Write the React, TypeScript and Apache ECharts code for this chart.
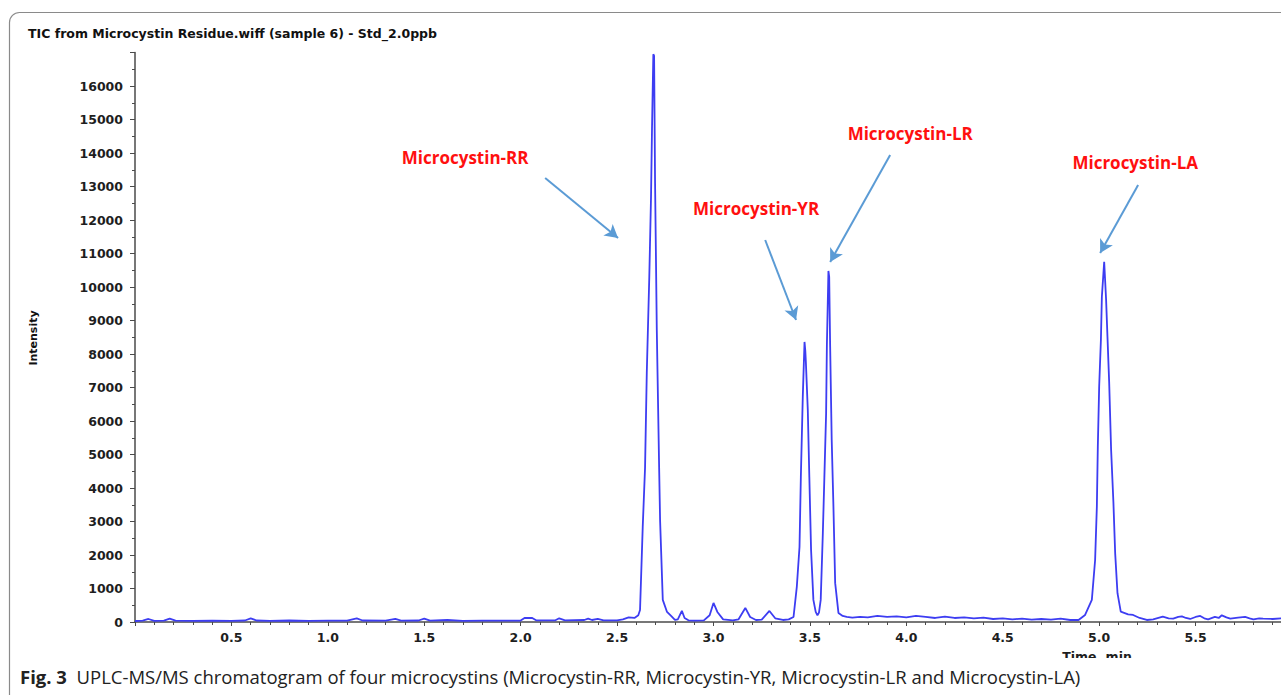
import React, { useEffect, useRef } from "react";
import * as echarts from "echarts";

// ---- Data (time in min, intensity in cps) ----
const baselineStart: [number, number][] = [
  [0.0, 30], [0.04, 40], [0.07, 90], [0.1, 35], [0.15, 40], [0.18, 100], [0.21, 40],
  [0.3, 35], [0.4, 40], [0.5, 35], [0.57, 45], [0.6, 110], [0.63, 45], [0.7, 35],
  [0.8, 45], [0.9, 35], [1.0, 40], [1.1, 40], [1.15, 110], [1.18, 45], [1.3, 40],
  [1.35, 90], [1.38, 40], [1.47, 45], [1.5, 100], [1.53, 40], [1.62, 60], [1.7, 35],
  [1.8, 40], [1.9, 40], [2.0, 45], [2.02, 120], [2.06, 120], [2.08, 50], [2.18, 50],
  [2.2, 110], [2.23, 50], [2.33, 60], [2.35, 100], [2.37, 60], [2.4, 90], [2.43, 50],
  [2.5, 50], [2.53, 80], [2.56, 140], [2.59, 120], [2.61, 200],
];

const peakRR: [number, number][] = [
  [2.619, 360], [2.633, 2840], [2.645, 4600], [2.654, 7430], [2.667, 10300],
  [2.676, 12690], [2.681, 14690], [2.688, 16950], [2.692, 16900], [2.697, 13100],
  [2.706, 8700], [2.718, 4630], [2.723, 3040], [2.737, 660], [2.759, 300],
  [2.78, 180], [2.8, 60], [2.815, 80], [2.836, 330], [2.85, 120], [2.87, 50],
  [2.9, 40], [2.95, 50], [2.98, 200], [3.0, 570], [3.02, 300], [3.05, 80],
  [3.1, 50], [3.13, 80], [3.165, 420], [3.19, 150], [3.22, 60], [3.25, 70],
  [3.29, 330], [3.32, 110], [3.36, 60], [3.39, 80],
];

const peaksYRLR: [number, number][] = [
  [3.415, 150], [3.432, 1050], [3.446, 2240], [3.453, 4330], [3.463, 6720],
  [3.472, 8360], [3.476, 8100], [3.479, 7760], [3.489, 6330], [3.497, 4330],
  [3.506, 2150], [3.518, 660], [3.53, 300], [3.539, 200], [3.547, 280],
  [3.556, 660], [3.567, 2650], [3.575, 4330], [3.584, 6230], [3.588, 8270],
  [3.596, 10480], [3.6, 10300], [3.605, 8210], [3.613, 5430], [3.622, 3430],
  [3.631, 1160], [3.648, 270], [3.67, 180], [3.691, 150],
];

const baselineMid: [number, number][] = [
  [3.72, 130], [3.76, 150], [3.8, 140], [3.85, 180], [3.9, 150], [3.95, 170],
  [4.0, 140], [4.05, 180], [4.1, 150], [4.15, 120], [4.2, 160], [4.25, 120],
  [4.3, 140], [4.35, 110], [4.4, 130], [4.45, 90], [4.5, 110], [4.55, 80],
  [4.6, 100], [4.65, 70], [4.7, 90], [4.75, 70], [4.8, 100], [4.85, 60],
  [4.893, 60], [4.927, 210], [4.962, 660],
];

const peakLA: [number, number][] = [
  [4.979, 1850], [4.988, 3440], [4.993, 5230], [5.0, 7020], [5.009, 8420],
  [5.014, 9710], [5.022, 10400], [5.026, 10755], [5.03, 10300], [5.036, 9610],
  [5.043, 8520], [5.052, 7130], [5.062, 5130], [5.074, 3550], [5.083, 2050],
  [5.095, 860], [5.112, 310], [5.15, 230], [5.176, 210], [5.21, 120], [5.247, 60],
];

const baselineEnd: [number, number][] = [
  [5.28, 80], [5.33, 160], [5.36, 110], [5.384, 100], [5.41, 150], [5.429, 170],
  [5.45, 120], [5.472, 90], [5.5, 150], [5.524, 180], [5.545, 110], [5.565, 80],
  [5.6, 150], [5.62, 120], [5.636, 200], [5.66, 140], [5.68, 100], [5.72, 130],
  [5.757, 150], [5.78, 110], [5.8, 80], [5.83, 110], [5.85, 100], [5.9, 90],
  [5.944, 110], [6.0, 100],
];

// Annotation labels (text, label anchor [t, I], arrow start [t, I], arrow tip [t, I])
const annotationNames = ["Microcystin-RR", "Microcystin-YR", "Microcystin-LR", "Microcystin-LA"];
const labelAnchors: [number, number][] = [[1.712, 13880], [3.221, 12358], [4.02, 14597], [5.187, 13731]];
const arrowStarts: [number, number][] = [[2.127, 13254], [3.268, 11403], [3.916, 13940], [5.202, 13045]];
const arrowTips: [number, number][] = [[2.505, 11463], [3.428, 9015], [3.605, 10746], [5.005, 11015]];

const titleText = "TIC from Microcystin Residue.wiff (sample 6) - Std_2.0ppb";
const captionText =
  "UPLC-MS/MS chromatogram of four microcystins (Microcystin-RR, Microcystin-YR, Microcystin-LR and Microcystin-LA)";

const tickFont = { fontFamily: "DejaVu Sans", fontWeight: "bold" as const, fontSize: 12.5, color: "#1e1e1e" };

export default function App() {
  const ref = useRef<HTMLDivElement>(null);

  useEffect(() => {
    if (!ref.current) return;
    const chart = echarts.init(ref.current, undefined, { renderer: "svg" });
    const trace = [...baselineStart, ...peakRR, ...peaksYRLR, ...baselineMid, ...peakLA, ...baselineEnd];

    chart.setOption({
      animation: false,
      backgroundColor: "#ffffff",
      grid: { left: 135, top: 52.5, right: 28, bottom: 73, containLabel: false },
      xAxis: {
        type: "value",
        min: 0,
        max: 6,
        interval: 0.5,
        axisLine: { show: true, onZero: false, lineStyle: { color: "#4a4a4a", width: 1.5 } },
        axisTick: { show: true, length: 4, lineStyle: { color: "#4a4a4a" } },
        minorTick: { show: true, splitNumber: 5, length: 3, lineStyle: { color: "#4a4a4a" } },
        splitLine: { show: false },
        axisLabel: {
          ...tickFont,
          margin: 9,
          showMinLabel: false,
          formatter: (v: number) => v.toFixed(1),
        },
      },
      yAxis: {
        type: "value",
        min: 0,
        max: 17000,
        interval: 1000,
        axisLine: { show: true, lineStyle: { color: "#4a4a4a", width: 1.5 } },
        axisTick: { show: true, length: 5, lineStyle: { color: "#4a4a4a" } },
        minorTick: { show: true, splitNumber: 2, length: 3, lineStyle: { color: "#4a4a4a" } },
        splitLine: { show: false },
        axisLabel: {
          ...tickFont,
          margin: 12,
          showMaxLabel: false,
          formatter: (v: number) => String(v),
        },
      },
      series: [
        {
          type: "line",
          data: trace,
          showSymbol: false,
          symbol: "none",
          lineStyle: { color: "#3d3df2", width: 1.8 },
          z: 3,
          markLine: {
            silent: true,
            symbol: ["none", "arrow"],
            symbolSize: [11, 13],
            label: { show: false },
            lineStyle: { color: "#5b9bd5", width: 2, type: "solid" },
            data: arrowStarts.map((s, i) => [
              { coord: s, symbol: "none" },
              { coord: arrowTips[i], symbol: "arrow" },
            ]),
          },
          markPoint: {
            silent: true,
            symbol: "circle",
            symbolSize: 1,
            itemStyle: { color: "rgba(0,0,0,0)" },
            label: {
              show: true,
              position: "inside",
              color: "#ff1010",
              fontFamily: "Open Sans",
              fontWeight: "bold",
              fontSize: 17,
              formatter: (p: any) => p.name,
            },
            data: annotationNames.map((n, i) => ({ name: n, coord: labelAnchors[i] })),
          },
        },
      ],
      graphic: [
        {
          type: "text",
          x: 28,
          y: 33,
          z: 20,
          style: {
            text: titleText,
            font: "bold 12.5px 'DejaVu Sans'",
            fill: "#111",
            verticalAlign: "middle",
          },
        },
        {
          type: "text",
          x: 33,
          y: 338,
          rotation: Math.PI / 2,
          z: 20,
          style: {
            text: "Intensity",
            font: "bold 11px 'DejaVu Sans'",
            fill: "#111",
            align: "center",
            verticalAlign: "middle",
          },
        },
        {
          type: "text",
          x: 1097,
          y: 650,
          z: 5,
          style: {
            text: "Time, min",
            font: "bold 12.5px 'DejaVu Sans'",
            fill: "#1e1e1e",
            align: "center",
            verticalAlign: "top",
          },
        },
        {
          type: "rect",
          z: 10,
          shape: { x: 0, y: 658, width: 1320, height: 40 },
          style: { fill: "#ffffff" },
        },
        {
          type: "text",
          x: 20,
          y: 676,
          z: 11,
          style: {
            text: "{b|Fig. 3}  " + captionText,
            font: "18.5px 'Open Sans'",
            fill: "#222",
            verticalAlign: "middle",
            rich: {
              b: { font: "bold 18.5px 'Open Sans'", fill: "#222" },
            },
          },
        },
        {
          type: "rect",
          z: 12,
          shape: { x: 9.5, y: 12.5, width: 1400, height: 800, r: 10 },
          style: { fill: "none", stroke: "#8a8a8a", lineWidth: 1.2 },
        },
      ],
    });

    return () => chart.dispose();
  }, []);

  return (
    <div
      style={{
        position: "fixed",
        left: 0,
        top: 0,
        width: 1281,
        height: 695,
        overflow: "hidden",
        background: "#ffffff",
      }}
    >
      <div ref={ref} style={{ width: 1320, height: 695 }} />
    </div>
  );
}
